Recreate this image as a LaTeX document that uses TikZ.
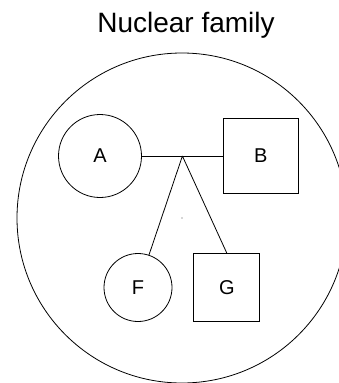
\documentclass[tikz,border=0pt]{standalone}
\usepackage{fontspec}
\setmainfont{Liberation Sans}
\usetikzlibrary{positioning}

\tikzset{
    member/.style={draw,line width=0.8pt,inner sep=0pt,font=\fontsize{20}{24}\selectfont},
    female/.style={member,circle},
    male/.style={member,rectangle},
    household/.style={draw,line width=0.8pt,circle,minimum size=330pt,inner sep=0pt},
    heading/.style={font=\fontsize{28}{32}\selectfont,anchor=base},
    link/.style={line width=0.8pt},
    centre/.style={circle,fill=black!70,inner sep=0pt,minimum size=1.2pt}
}

\begin{document}
\begin{tikzpicture}[x=1pt,y=1pt]
    \useasboundingbox (0,0) rectangle (339,-383);

    \node[household] (fam) at (182,-218) {};
    \node[heading] (title) at (186,-32) {Nuclear family};
    \node[centre] (mid) at (fam.center) {};

    \node[female,minimum size=83pt] (A) at (100,-156) {A};
    \node[male,minimum size=75pt] (B) [right=81pt of A] {B};
    \node[female,minimum size=68pt] (F) at (138,-287.5) {F};
    \node[male,minimum width=66pt,minimum height=68pt] (G) [right=21pt of F] {G};

    \draw[link] (A) -- coordinate (j) (B);
    \draw[link] (j) -- (F)
                (j) -- (G.north);
\end{tikzpicture}
\end{document}
